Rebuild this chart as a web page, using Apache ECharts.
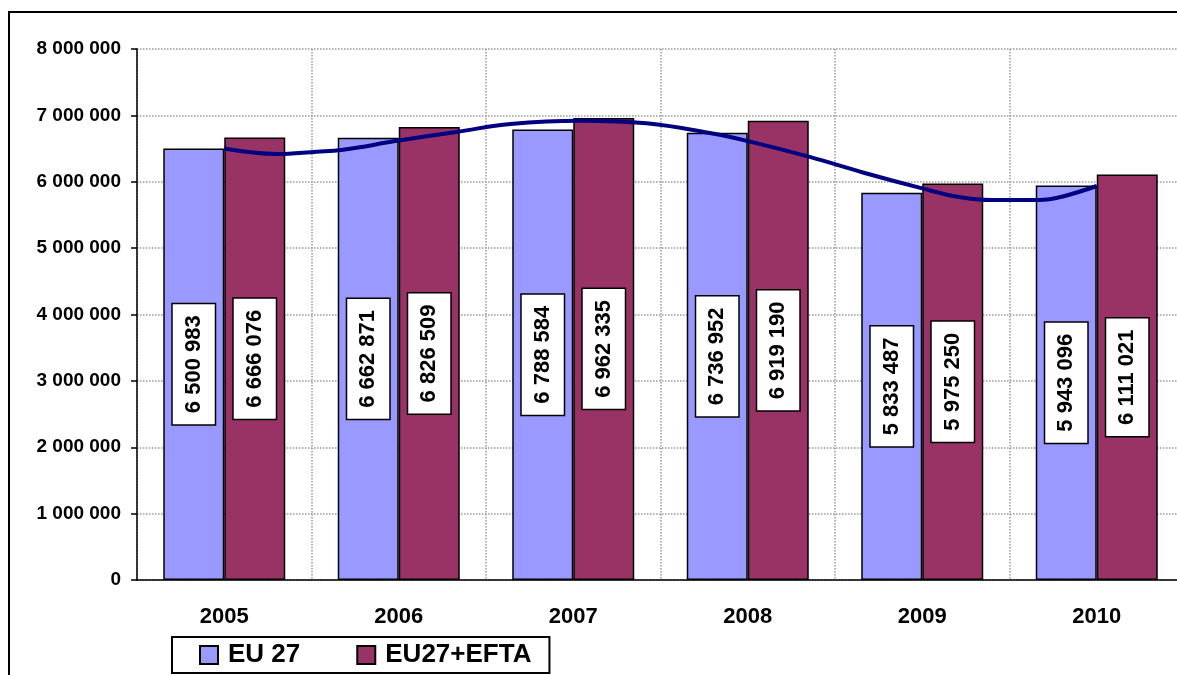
<!DOCTYPE html>
<html>
<head>
<meta charset="utf-8">
<script src="https://cdn.jsdelivr.net/npm/echarts@6/dist/echarts.min.js"></script>
<style>
  html, body { margin: 0; padding: 0; background: #fff; overflow: hidden; }
  #chart { width: 1192px; height: 675px; }
</style>
</head>
<body>
<div id="chart"></div>
<script>
var years = ['2005', '2006', '2007', '2008', '2009', '2010'];
var eu27 = [6500983, 6662871, 6788584, 6736952, 5833487, 5943096];
var eu27efta = [6666076, 6826509, 6962335, 6919190, 5975250, 6111021];

// hand-drawn curve (position in category units, value)
var curvePos = [0.5, 0.8, 1.03, 1.17, 1.5, 1.84, 2.14, 2.54, 2.92, 3.29, 3.52, 3.86, 4.16, 4.5, 4.7, 4.9, 5.17, 5.3, 5.5];
var curveVal = [6500000, 6418000, 6453000, 6478000, 6620000, 6754000, 6870000, 6920000, 6880000, 6730000,
                6600000, 6370000, 6140000, 5900000, 5775000, 5725000, 5725000, 5775000, 5936000];

var FONT = 'Liberation Sans, Arial, sans-serif';

function fmt(v) {
    return String(v).replace(/\B(?=(\d{3})+(?!\d))/g, ' ');
}

var barLabel = {
    show: true,
    position: 'inside',
    rotate: 90,
    formatter: function (p) { return fmt(p.value); },
    backgroundColor: '#fff',
    borderColor: '#000',
    borderWidth: 1.5,
    padding: [10, 11],
    color: '#000',
    fontFamily: FONT,
    fontWeight: 'bold',
    fontSize: 22
};

var curve = curvePos.map(function (x, i) { return [x, curveVal[i]]; });

var chart = echarts.init(document.getElementById('chart'));
chart.setOption({
    animation: false,
    backgroundColor: '#fff',
    textStyle: {fontFamily: FONT},
    grid: {left: 137, top: 49, width: 1047, height: 531},
    graphic: [{
        type: 'rect',
        shape: {x: 9, y: 12, width: 1400, height: 1000},
        style: {fill: 'none', stroke: '#000', lineWidth: 2},
        z: -1
    }],
    legend: {
        data: ['EU 27', 'EU27+EFTA'],
        left: 172,
        top: 637,
        padding: [5, 18, 5, 27],
        itemWidth: 18,
        itemHeight: 18,
        itemGap: 56,
        icon: 'rect',
        borderColor: '#000',
        borderWidth: 2,
        backgroundColor: '#fff',
        textStyle: {fontFamily: FONT, fontSize: 26, fontWeight: 'bold', color: '#000', padding: [0, 0, 0, 5]}
    },
    xAxis: [{
        type: 'category',
        data: years,
        axisLine: {lineStyle: {color: '#000', width: 1.5}},
        axisTick: {length: 8, lineStyle: {color: '#000', width: 1.5}},
        splitLine: {show: true, lineStyle: {color: '#999', type: 'dotted', width: 1.5}},
        axisLabel: {color: '#000', fontFamily: FONT, fontWeight: 'bold', fontSize: 22, margin: 26}
    }, {
        type: 'value',
        min: 0,
        max: 6,
        show: false
    }],
    yAxis: {
        type: 'value',
        min: 0,
        max: 8000000,
        interval: 1000000,
        axisLine: {show: true, lineStyle: {color: '#000', width: 1.5}},
        axisTick: {show: true, length: 6, lineStyle: {color: '#000', width: 1.5}},
        splitLine: {lineStyle: {color: '#999', type: 'dotted', width: 1.5}},
        axisLabel: {
            color: '#000', fontFamily: FONT, fontWeight: 'bold', fontSize: 19, margin: 16,
            formatter: fmt
        }
    },
    series: [{
        name: 'EU 27',
        type: 'bar',
        data: eu27,
        barWidth: 61,
        barGap: '0%',
        itemStyle: {color: '#9999FF', borderColor: '#000', borderWidth: 1.5},
        label: barLabel
    }, {
        name: 'EU27+EFTA',
        type: 'bar',
        data: eu27efta,
        barWidth: 61,
        barGap: '0%',
        itemStyle: {color: '#993366', borderColor: '#000', borderWidth: 1.5},
        label: barLabel
    }, {
        name: 'curve',
        type: 'line',
        xAxisIndex: 1,
        data: curve,
        smooth: 0.4,
        symbol: 'none',
        lineStyle: {color: '#000080', width: 4},
        z: 5
    }]
});
</script>
</body>
</html>
